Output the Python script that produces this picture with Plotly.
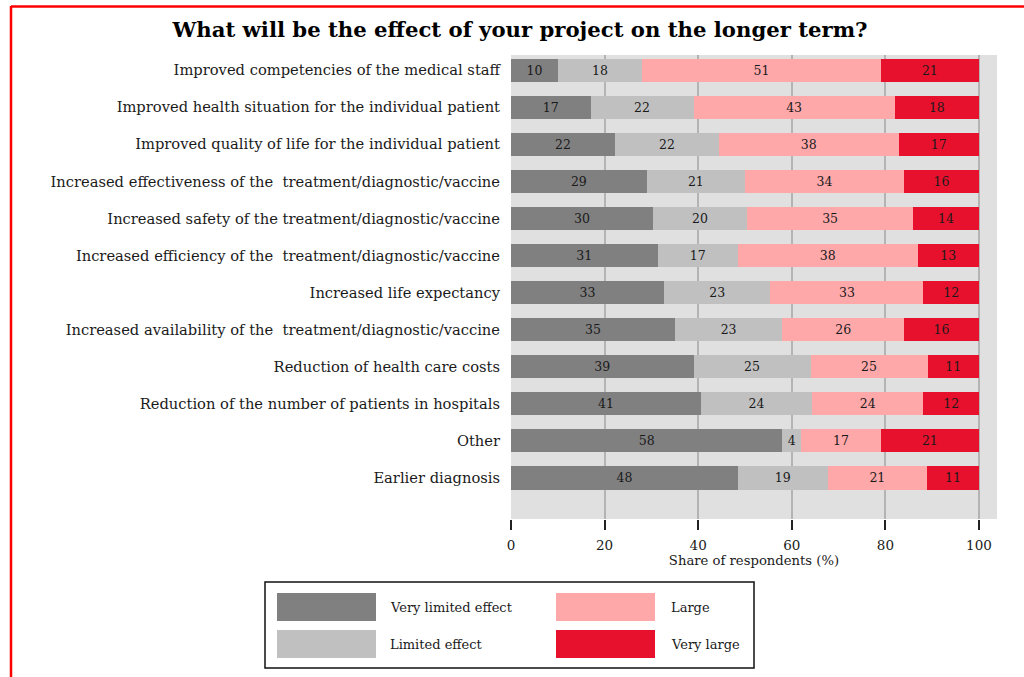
import plotly.graph_objects as go

categories = [
    "Improved competencies of the medical staff",
    "Improved health situation for the individual patient",
    "Improved quality of life for the individual patient",
    "Increased effectiveness of the  treatment/diagnostic/vaccine",
    "Increased safety of the treatment/diagnostic/vaccine",
    "Increased efficiency of the  treatment/diagnostic/vaccine",
    "Increased life expectancy",
    "Increased availability of the  treatment/diagnostic/vaccine",
    "Reduction of health care costs",
    "Reduction of the number of patients in hospitals",
    "Other",
    "Earlier diagnosis",
]
very_limited = [10, 17, 22, 29, 30, 31, 33, 35, 39, 41, 58, 48]
limited = [18, 22, 22, 21, 20, 17, 23, 23, 25, 24, 4, 19]
large = [51, 43, 38, 34, 35, 38, 33, 26, 25, 24, 17, 21]
very_large = [21, 18, 17, 16, 14, 13, 12, 16, 11, 12, 21, 11]

series_names = ["Very limited effect", "Limited effect", "Large", "Very large"]
series_values = [very_limited, limited, large, very_large]
series_colors = ["#808080", "#c0c0c0", "#ffa8aa", "#e8112d"]
x_ticks = [0, 20, 40, 60, 80, 100]

FONT = "DejaVu Serif"
W, H = 1024, 677
L, R, T, B = 511, 27, 55, 158
PW, PH = W - L - R, H - T - B

totals = [sum(v) for v in zip(*series_values)]

fig = go.Figure()
for name, vals, col in zip(series_names, series_values, series_colors):
    fig.add_trace(go.Bar(
        y=categories,
        x=[v / t * 100 for v, t in zip(vals, totals)],
        text=[str(v) for v in vals],
        name=name,
        orientation="h",
        marker=dict(color=col, line=dict(width=0)),
        textposition="inside",
        insidetextanchor="middle",
        textangle=0,
        textfont=dict(family=FONT, size=12.5, color="#1a1a1a"),
        hoverinfo="skip",
        showlegend=False,
    ))


def px(x):
    return (x - L) / PW


def py(y):
    return 1 - (y - T) / PH


shapes = []
annotations = []
# red frame
shapes.append(dict(type="line", xref="paper", yref="paper", x0=px(11), x1=px(1030),
                   y0=py(6.5), y1=py(6.5), line=dict(color="#ff0000", width=2.5)))
shapes.append(dict(type="line", xref="paper", yref="paper", x0=px(11), x1=px(11),
                   y0=py(6), y1=py(690), line=dict(color="#ff0000", width=2.5)))
# legend box
shapes.append(dict(type="rect", xref="paper", yref="paper", x0=px(265), x1=px(754),
                   y0=py(582), y1=py(668), line=dict(color="#111111", width=1.5),
                   fillcolor="white"))
leg_pos = [(277, 593, 111), (277, 630, 111), (556, 593, 113), (556, 630, 113)]
for (lx, ly, toff), name, col in zip(leg_pos, series_names, series_colors):
    shapes.append(dict(type="rect", xref="paper", yref="paper", x0=px(lx), x1=px(lx + 99),
                       y0=py(ly), y1=py(ly + 28), line=dict(width=0), fillcolor=col))
    annotations.append(dict(xref="paper", yref="paper", x=px(lx + toff), y=py(ly + 14),
                            text=name, showarrow=False, xanchor="left", yanchor="middle",
                            font=dict(family=FONT, size=13, color="#1a1a1a")))

fig.update_layout(
    width=W, height=H,
    margin=dict(l=L, r=R, t=T, b=B, pad=0),
    barmode="stack",
    bargap=0.37,
    paper_bgcolor="white",
    plot_bgcolor="#e0e0e0",
    title=dict(text="<b>What will be the effect of your project on the longer term?</b>",
               xref="container", x=520 / W, xanchor="center",
               yref="container", y=1 - 30 / H, yanchor="middle",
               font=dict(family=FONT, size=21.2, color="#000000")),
    font=dict(family=FONT, size=13, color="#1a1a1a"),
    xaxis=dict(range=[0, PW / 4.68], tickvals=x_ticks, ticktext=[str(t) for t in x_ticks],
               showgrid=True, gridcolor="#b4b4b4", gridwidth=2,
               ticks="outside", ticklen=10, tickwidth=1.5, tickcolor="#222222",
               showline=False, zeroline=False, ticklabelstandoff=4,
               tickfont=dict(family=FONT, size=13.5, color="#1a1a1a"),
               title=dict(text="Share of respondents (%)", standoff=0,
                          font=dict(family=FONT, size=13.2, color="#1a1a1a"))),
    yaxis=dict(categoryorder="array", categoryarray=categories,
               range=[12.11, -0.41], showgrid=False, zeroline=False, showline=False,
               ticks="", ticklabelstandoff=10,
               tickfont=dict(family=FONT, size=14.7, color="#1a1a1a")),
    shapes=shapes,
    annotations=annotations,
)

fig.write_html("out.html", config={"displayModeBar": False},
               post_script="document.body.style.margin='0';")
